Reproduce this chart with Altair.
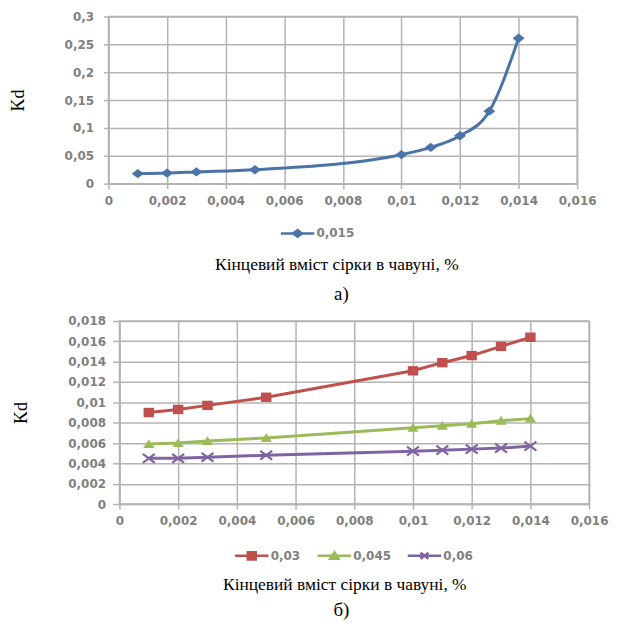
import altair as alt
import pandas as pd

# ---- data ----
x_vals = [0.001, 0.002, 0.003, 0.005, 0.010, 0.011, 0.012, 0.013, 0.014]
kd_015 = [0.018, 0.019, 0.021, 0.025, 0.052, 0.065, 0.086, 0.130, 0.261]
kd_03 = [0.0090, 0.0093, 0.0097, 0.0105, 0.0131, 0.0139, 0.0146, 0.0155, 0.0164]
kd_045 = [0.0059, 0.0060, 0.0062, 0.0065, 0.0075, 0.0077, 0.0079, 0.0082, 0.0084]
kd_06 = [0.0045, 0.0045, 0.0046, 0.0048, 0.0052, 0.0053, 0.0054, 0.0055, 0.0057]

x_ticks = [0, 0.002, 0.004, 0.006, 0.008, 0.01, 0.012, 0.014, 0.016]
y_ticks_a = [0, 0.05, 0.1, 0.15, 0.2, 0.25, 0.3]
y_ticks_b = [0, 0.002, 0.004, 0.006, 0.008, 0.01, 0.012, 0.014, 0.016, 0.018]

series_a = ["0,015"]
series_b = ["0,03", "0,045", "0,06"]
colors_a = ["#4a74a8"]
colors_b = ["#c0504d", "#9bbb59", "#8064a2"]

x_title = "Кінцевий вміст сірки в чавуні, %"
y_title = "Kd"
caption_a = "а)"
caption_b = "б)"

# ---- styling ----
GRID = "#b4b4b4"
LAB = "#808080"
LABFONT = "DejaVu Sans, Verdana, sans-serif"
SERIF = "Liberation Serif, Times New Roman, DejaVu Serif, serif"
FMT = "replace(format(datum.value, '~g'), '.', ',')"

DIAMOND = "M0,-0.85L1.1,0L0,0.85L-1.1,0Z"
SQUARE = "M-1,-0.9H1V0.9H-1Z"
TRI = "M0,-0.9L1.05,0.75H-1.05Z"
XMARK = "M-1,-0.75L1,0.75M-1,0.75L1,-0.75"
LINE = "M-4.2,0H4.2"

df_a = pd.DataFrame({"x": x_vals, "kd": kd_015, "s": series_a[0]})
df_b = pd.concat(
    [
        pd.DataFrame({"x": x_vals, "kd": vals, "s": name})
        for name, vals in zip(series_b, [kd_03, kd_045, kd_06])
    ],
    ignore_index=True,
)


def axes(ydom, yticks, tick_size, label_pad, title_pad, xt_pad, xt_x):
    xenc = alt.X(
        "x:Q",
        scale=alt.Scale(domain=[0, 0.016], nice=False),
        axis=alt.Axis(values=x_ticks, labelExpr=FMT, title=x_title, grid=True,
                      tickSize=5, labelPadding=7, labelFont=LABFONT,
                      labelFontSize=12, labelFontWeight="bold", labelColor=LAB,
                      gridColor=GRID, gridWidth=1.5, domainColor=GRID,
                      domainWidth=1.5, tickColor=GRID, tickWidth=1.5,
                      labelFlush=False, titleFont=SERIF, titleFontSize=17.5,
                      titleFontWeight="normal", titleColor="black",
                      titlePadding=xt_pad, titleX=xt_x, titleAlign="center"),
    )
    yenc = alt.Y(
        "kd:Q",
        scale=alt.Scale(domain=ydom, nice=False),
        axis=alt.Axis(values=yticks, labelExpr=FMT, title=y_title, grid=True,
                      tickSize=tick_size, labelPadding=label_pad,
                      labelFont=LABFONT, labelFontSize=12,
                      labelFontWeight="bold", labelColor=LAB,
                      gridColor=GRID, gridWidth=1.5, domainColor=GRID,
                      domainWidth=1.5, tickColor=GRID, tickWidth=1.5,
                      titleFont=SERIF, titleFontSize=18,
                      titleFontWeight="normal", titleColor="black",
                      titlePadding=title_pad),
    )
    return xenc, yenc


def legend_props(leg_x, leg_y, symbol, color):
    return alt.Legend(
        orient="none", legendX=leg_x, legendY=leg_y, direction="horizontal",
        title=None, symbolSize=64, symbolStrokeWidth=2.5, labelOffset=13,
        labelFont=LABFONT, labelFontSize=12, labelFontWeight="bold",
        labelColor=LAB, padding=0, symbolType=symbol,
        symbolFillColor=color, symbolStrokeColor=color,
    )


def caption_params(caption, dx, offset):
    return alt.TitleParams(
        text=caption, orient="bottom", anchor="middle", frame="group",
        font=SERIF, fontSize=19, fontWeight="normal", color="black",
        offset=offset, dx=dx,
    )


def marker_layer(base, mk, size, color):
    is_x = mk == XMARK
    return base.mark_point(
        shape=mk, size=size, filled=not is_x, opacity=1, color=color,
        strokeWidth=2.2 if is_x else 0,
    )


# ---- top panel ----
xa, ya = axes([0, 0.3], y_ticks_a, 5, 10, 37, 49, 229)
base_a = alt.Chart(df_a)
top = alt.layer(
    base_a.mark_line(strokeWidth=3, interpolate="monotone").encode(
        x=xa, y=ya,
        color=alt.Color(
            "s:N", scale=alt.Scale(domain=series_a, range=colors_a),
            legend=legend_props(184, 212, LINE + DIAMOND, colors_a[0]),
        ),
    ),
    marker_layer(base_a, DIAMOND, 121, colors_a[0]).encode(x=xa, y=ya),
).properties(width=471, height=168,
             title=caption_params(caption_a, -1.5, 12))

# ---- bottom panel: one legend per series, each with line+marker ----
xb, yb = axes([0, 0.018], y_ticks_b, 7, 7, 37, 49, 226)
markers_b = [SQUARE, TRI, XMARK]
sizes_b = [110, 115, 144]
leg_x_b = [138, 221, 311.5]
leg_y_b = 230
subsets = [alt.Chart(df_b).transform_filter(alt.datum.s == n)
           for n in series_b]

line1 = subsets[0].mark_line(strokeWidth=3).encode(
    x=xb, y=yb,
    color=alt.Color("s:N", scale=alt.Scale(domain=[series_b[0]],
                                           range=[colors_b[0]]),
                    legend=legend_props(leg_x_b[0], leg_y_b,
                                        LINE + markers_b[0], colors_b[0])),
)
line2 = subsets[1].mark_line(strokeWidth=3).encode(
    x=xb, y=yb,
    stroke=alt.Stroke("s:N", scale=alt.Scale(domain=[series_b[1]],
                                             range=[colors_b[1]]),
                      legend=legend_props(leg_x_b[1], leg_y_b,
                                          LINE + markers_b[1], colors_b[1])),
)
line3 = subsets[2].mark_line(strokeWidth=3, color=colors_b[2]).encode(
    x=xb, y=yb,
    opacity=alt.Opacity("s:N", scale=alt.Scale(domain=[series_b[2]],
                                               range=[1]),
                        legend=legend_props(leg_x_b[2], leg_y_b,
                                            LINE + markers_b[2], colors_b[2])),
)
pts = [marker_layer(sub, mk, sz, c).encode(x=xb, y=yb)
       for sub, mk, sz, c in zip(subsets, markers_b, sizes_b, colors_b)]

bottom = alt.layer(line1, line2, line3, *pts).properties(
    width=472, height=184, title=caption_params(caption_b, -13, 8)
)

# narrow empty spacer shifts the lower plot to the right of the upper one
spacer = (
    alt.Chart(pd.DataFrame({"v": [0]}))
    .mark_point(opacity=0)
    .encode(x=alt.value(0), y=alt.value(0))
    .properties(width=11, height=184,
                view=alt.ViewBackground(stroke="transparent", strokeWidth=0))
)

chart = (
    alt.vconcat(top, alt.hconcat(spacer, bottom, spacing=0, bounds="flush"),
                spacing=9)
    .resolve_scale(color="independent", stroke="independent",
                   opacity="independent")
    .properties(padding=0)
    .configure_view(stroke=GRID, strokeWidth=1.5)
)

chart.save("out.html", embed_options={"renderer": "svg", "actions": False})
